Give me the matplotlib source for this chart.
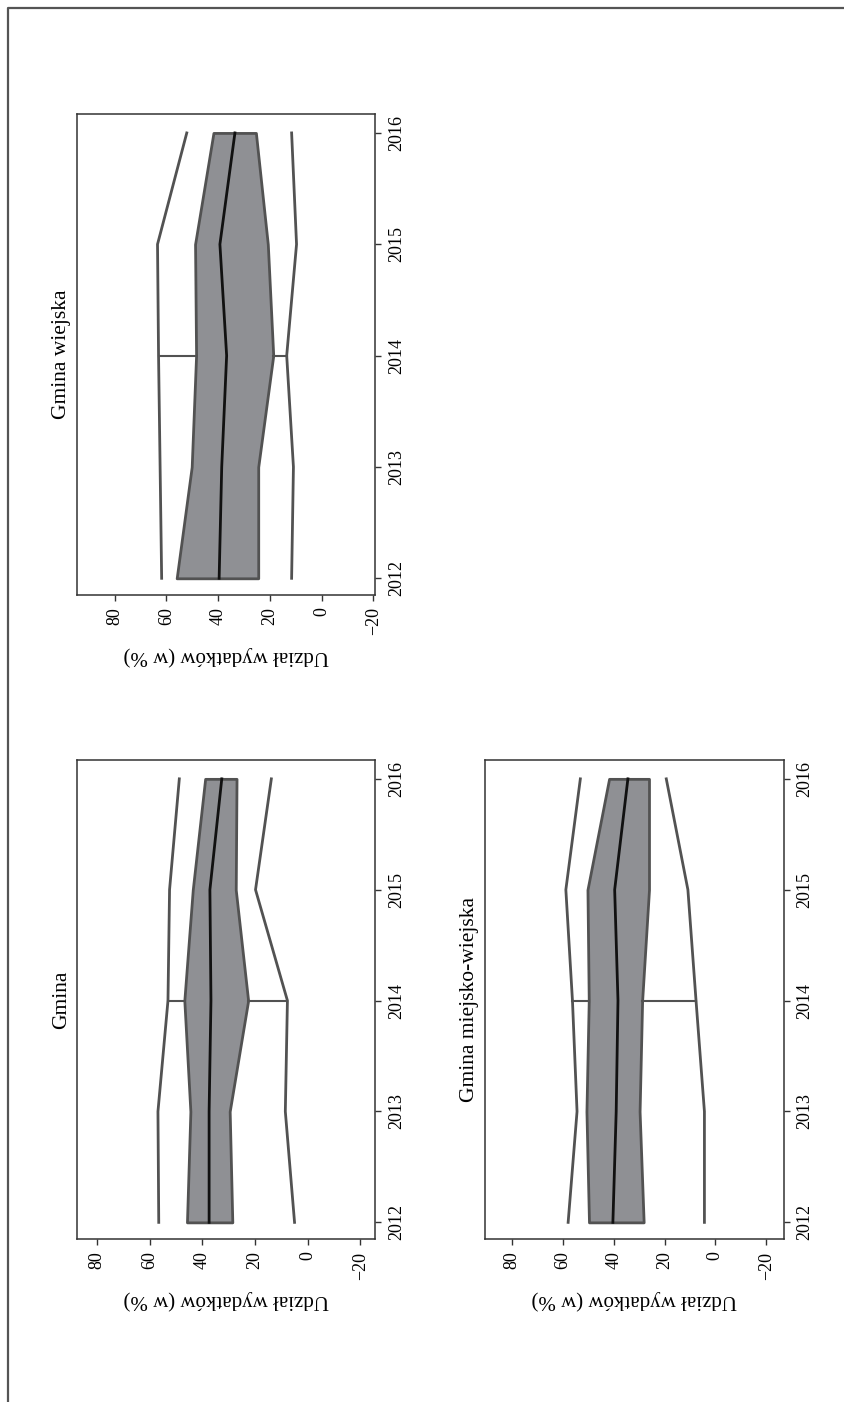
import matplotlib.pyplot as plt
from matplotlib.lines import Line2D

plt.rcParams['font.family'] = ['Liberation Serif', 'DejaVu Serif']

# page is rotated 90 degrees: years run bottom->top, values right->left
years = [2012, 2013, 2014, 2015, 2016]
value_ticks = [80, 60, 40, 20, 0, -20]
axis_label = 'Udział wydatków (w %)'

# Gmina
g_upper = [56.5, 56.8, 53.0, 52.4, 48.7]
g_q_hi = [45.8, 44.5, 46.8, 43.6, 38.9]
g_med = [37.4, 37.4, 36.7, 37.1, 32.6]
g_q_lo = [28.6, 29.6, 22.6, 27.3, 27.0]
g_lower = [5.0, 8.5, 7.7, 19.8, 13.8]

# Gmina wiejska
w_upper = [61.8, 62.4, 63.0, 63.4, 52.1]
w_q_hi = [56.0, 50.2, 48.5, 48.9, 41.8]
w_med = [39.6, 38.6, 36.7, 39.3, 33.5]
w_q_lo = [24.5, 24.5, 18.7, 20.8, 25.4]
w_lower = [11.6, 10.9, 13.5, 9.7, 11.6]

# Gmina miejsko-wiejska
m_upper = [57.9, 54.4, 56.2, 58.8, 53.1]
m_q_hi = [49.7, 50.7, 49.8, 50.3, 41.8]
m_med = [40.3, 39.0, 38.3, 39.6, 34.4]
m_q_lo = [28.2, 29.8, 28.8, 26.1, 26.1]
m_lower = [4.3, 4.3, 7.6, 10.8, 19.3]

W, H = 845, 1402
fig = plt.figure(figsize=(W / 100, H / 100), dpi=100)

# page frame (left and top edges)
fig.add_artist(Line2D([8 / W, 8 / W, 1], [0, 1 - 8 / H, 1 - 8 / H],
                      color='#555555', lw=1.6))

band_color = '#8f9094'
edge_color = '#525252'


def panel(rect, title, upper, q_hi, med, q_lo, lower, vlim):
    ax = fig.add_axes(rect)
    ax.fill_betweenx(years, q_lo, q_hi, facecolor=band_color,
                     edgecolor=edge_color, lw=2.0, zorder=2)
    ax.plot(upper, years, color=edge_color, lw=2.0, zorder=3)
    ax.plot(lower, years, color=edge_color, lw=2.0, zorder=3)
    ax.plot(med, years, color='#111111', lw=2.0, zorder=4)
    # whiskers only drawn at 2014
    i = years.index(2014)
    ax.plot([upper[i], q_hi[i]], [2014, 2014], color=edge_color, lw=1.5, zorder=3)
    ax.plot([q_lo[i], lower[i]], [2014, 2014], color=edge_color, lw=1.5, zorder=3)

    ax.set_xlim(vlim)
    ax.set_ylim(2011.85, 2016.17)
    ax.set_xticks(value_ticks)
    ax.set_xticklabels([f'{v}'.replace('-', '\u2212') for v in value_ticks],
                       rotation=90)
    ax.yaxis.tick_right()
    ax.set_yticks(years)
    ax.set_yticklabels([str(y) for y in years], rotation=90, va='center')
    ax.tick_params(axis='both', labelsize=13, length=4, width=1,
                   color='#333333', pad=5)
    for s in ax.spines.values():
        s.set_color('#333333')
        s.set_linewidth(1.1)

    ax.annotate(title, xy=(0, 0.5), xycoords='axes fraction',
                xytext=(-11, 0), textcoords='offset points',
                rotation=90, ha='center', va='center', fontsize=15.5)
    ax.annotate(axis_label, xy=(0.5, 0), xycoords='axes fraction',
                xytext=(0, -44), textcoords='offset points',
                rotation=180, ha='center', va='center', fontsize=15)
    return ax


panel([77 / W, 1 - 595 / H, 298.5 / W, 481 / H], 'Gmina wiejska',
      w_upper, w_q_hi, w_med, w_q_lo, w_lower, (94.5, -20.8))
panel([77 / W, 1 - 1239 / H, 298.5 / W, 479 / H], 'Gmina',
      g_upper, g_q_hi, g_med, g_q_lo, g_lower, (87.5, -25.7))
panel([485 / W, 1 - 1239 / H, 299 / W, 479 / H], 'Gmina miejsko-wiejska',
      m_upper, m_q_hi, m_med, m_q_lo, m_lower, (90.6, -27.0))

plt.savefig('out.png', dpi=100)
plt.close()
